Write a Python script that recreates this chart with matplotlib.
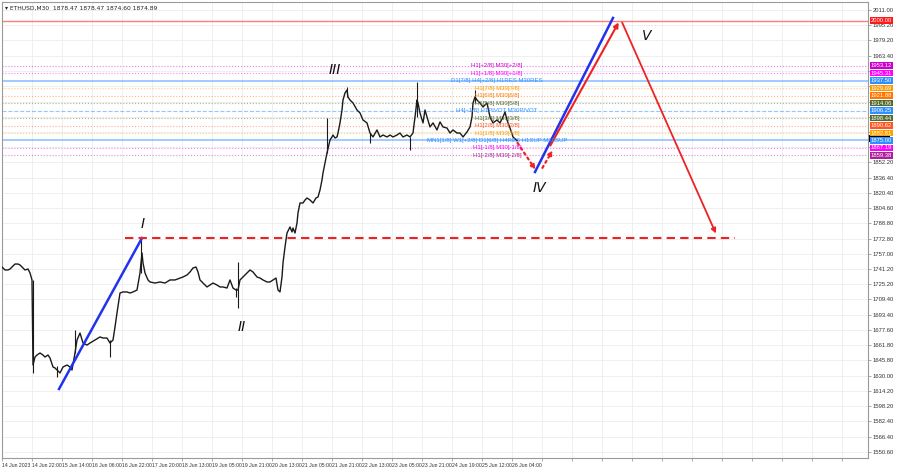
import matplotlib
matplotlib.use('Agg')
import matplotlib.pyplot as plt
from matplotlib import transforms
from matplotlib.patches import Rectangle

plt.rcParams['font.family'] = ['Liberation Sans Narrow', 'Liberation Sans', 'DejaVu Sans']

# close prices sampled along the chart (x = bar position on the time scale)
bar_x = [0, 3, 5, 8, 10, 13, 15, 18, 20, 23, 25, 28, 30, 32, 33, 35, 37, 40, 43, 45, 48, 50, 53, 55, 57, 60,
         63, 67, 70, 72, 75, 77, 80, 83, 87, 90, 95, 100, 103, 107, 110, 113, 115, 117, 120, 123, 127, 130, 133,
         137, 140, 142, 143, 145, 148, 150, 155, 160, 165, 170, 175, 180, 183, 187, 190, 193, 196, 198, 200, 203,
         207, 210, 213, 217, 220, 223, 227, 230, 233, 236, 238, 240, 243, 247, 250, 253, 257, 260, 263, 267, 270,
         273, 276, 278, 280, 282, 283, 285, 287, 290, 292, 293, 295, 297, 298, 300, 303, 305, 307, 310, 313, 316,
         318, 320, 322, 323, 325, 327, 330, 332, 333, 335, 337, 338, 340, 342, 343, 345, 347, 348, 350, 353, 357,
         360, 363, 367, 370, 373, 377, 380, 383, 387, 390, 393, 397, 400, 403, 407, 410, 413, 415, 417, 418, 420,
         423, 425, 427, 430, 433, 437, 440, 443, 447, 450, 453, 457, 460, 463, 467, 470, 472, 473, 475, 477, 480,
         483, 487, 490, 493, 497, 500, 503, 505, 507, 510, 513, 517]
close = [1745.3, 1742.2, 1740.1, 1740.1, 1741.1, 1744.2, 1746.3, 1746.3, 1745.3, 1742.2, 1740.1, 1741.1, 1737.0,
         1729.7, 1641.1, 1649.4, 1651.5, 1653.6, 1651.5, 1649.4, 1651.5, 1648.4, 1639.0, 1638.0, 1635.9, 1632.8,
         1639.0, 1641.1, 1639.0, 1635.9, 1653.6, 1667.1, 1674.4, 1664.0, 1661.9, 1664.0, 1667.1, 1670.3, 1669.2,
         1669.2, 1664.0, 1667.1, 1680.7, 1695.3, 1716.1, 1717.2, 1717.2, 1716.1, 1717.2, 1719.2, 1737.0, 1757.8,
         1747.4, 1737.0, 1729.7, 1727.6, 1726.5, 1727.6, 1726.5, 1729.7, 1729.7, 1731.7, 1732.8, 1734.9, 1738.0,
         1742.2, 1743.2, 1738.0, 1729.7, 1726.5, 1722.4, 1724.4, 1726.5, 1724.4, 1722.4, 1722.4, 1721.3, 1729.7,
         1721.3, 1719.2, 1719.2, 1729.7, 1732.8, 1737.0, 1740.1, 1738.0, 1732.8, 1731.7, 1729.7, 1727.6, 1727.6,
         1729.7, 1731.7, 1719.2, 1717.2, 1732.8, 1747.4, 1764.0, 1778.6, 1784.9, 1779.7, 1783.8, 1778.6, 1789.1,
         1799.5, 1809.9, 1809.9, 1813.0, 1815.1, 1813.0, 1809.9, 1815.1, 1816.1, 1823.4, 1833.9, 1841.2, 1851.6,
         1862.0, 1875.5, 1878.7, 1880.7, 1877.6, 1878.7, 1882.8, 1893.3, 1906.8, 1917.2, 1924.5, 1927.6, 1920.3,
         1917.2, 1914.1, 1906.8, 1903.7, 1896.4, 1893.3, 1882.8, 1878.7, 1886.0, 1878.7, 1880.7, 1878.7, 1880.7,
         1878.7, 1880.7, 1882.8, 1878.7, 1880.7, 1878.7, 1882.8, 1899.5, 1917.2, 1914.1, 1903.7, 1893.3, 1906.8,
         1899.5, 1889.1, 1893.3, 1886.0, 1894.3, 1889.1, 1888.0, 1882.8, 1886.0, 1882.8, 1882.8, 1878.7, 1883.9,
         1889.1, 1899.5, 1914.1, 1920.3, 1917.2, 1914.1, 1909.9, 1914.1, 1899.5, 1893.3, 1896.4, 1893.3, 1899.5,
         1904.7, 1896.4, 1888.0, 1878.7, 1874.9]

# long wicks
wick_x = [33, 57, 75, 110, 141, 236, 238, 327, 347, 370, 410, 417, 475]
wick_lo = [1632.8, 1628.6, 1653.6, 1649.4, 1737.0, 1711.9, 1700.5, 1862.0, 1920.3, 1872.4, 1865.1, 1899.5, 1914.1]
wick_hi = [1729.7, 1640.0, 1677.6, 1667.1, 1773.0, 1721.3, 1748.4, 1898.5, 1930.8, 1882.8, 1878.7, 1936.0, 1927.6]

# murrey math levels
level_price = [1953.125, 1945.3125, 1937.5, 1929.6875, 1921.875, 1914.0625, 1906.25, 1898.4375, 1890.625,
               1882.8125, 1875.0, 1867.1875, 1859.375]
level_name = ['H1[+2/8] M30[+2/8]', 'H1[+1/8] M30[+1/8]', 'D1[7/8] H4[+2/8] H1RES M30RES',
              'H1[7/8] M30[7/8]', 'H1[6/8] M30[6/8]', 'H1[5/8] M30[5/8]', 'H4[+1/8] H1PIVOT M30PIVOT',
              'H1[3/8] M30[3/8]', 'H1[2/8] M30[2/8]', 'H1[1/8] M30[1/8]',
              'MN1[1/8] W1[+2/8] D1[6/8] H4RES H1SUP M30SUP', 'H1[-1/8] M30[-1/8]', 'H1[-2/8] M30[-2/8]']
level_color = ['#cc00cc', '#ff00ff', '#2f8fff', '#ff9900', '#ff7700', '#556b2f', '#2f8fff', '#556b2f',
               '#ff5522', '#ffa000', '#2f8fff', '#ff00ff', '#aa2299']
level_style = [':', ':', '-', ':', ':', ':', '--', ':', ':', ':', '-', ':', ':']
target_price = 2000.0
last_price = 1874.89

price_ticks = [2011.00, 1995.20, 1979.20, 1963.40, 1852.20, 1836.40, 1820.40, 1804.60, 1788.80, 1772.80,
               1757.00, 1741.20, 1725.20, 1709.40, 1693.40, 1677.60, 1661.80, 1645.80, 1630.00, 1614.20,
               1598.20, 1582.40, 1566.40, 1550.60]
hidden_ticks = [1947.40, 1931.60, 1915.60, 1899.80, 1884.00, 1868.00]
time_labels = ['14 Jun 2023', '14 Jun 22:00', '15 Jun 14:00', '16 Jun 06:00', '16 Jun 22:00', '17 Jun 20:00',
               '18 Jun 13:00', '19 Jun 05:00', '19 Jun 21:00', '20 Jun 13:00', '21 Jun 05:00', '21 Jun 21:00',
               '22 Jun 13:00', '23 Jun 05:00', '23 Jun 21:00', '24 Jun 19:00', '25 Jun 12:00', '26 Jun 04:00']

# elliott wave sketch
wave1_x = [59, 142]
wave1_y = [1616.1, 1773.4]
wave1_level = 1773.4
wave_names = ['I', 'II', 'III', 'IV', 'V']
wave_x = [143, 242, 335, 539, 647]
wave_y = [1788.0, 1680.7, 1948.5, 1825.5, 1983.9]
proj_blue_x = [535, 613]
proj_blue_y = [1842.2, 2002.7]
proj_up_x = [549, 620]
proj_up_y = [1867.2, 2000.6]
proj_down_x = [621, 717]
proj_down_y = [2000.6, 1775.5]

fig = plt.figure(figsize=(9, 4.68), dpi=100)
ax = fig.add_axes([2 / 900, 10 / 468, 866 / 900, 456 / 468])
ax.set_xlim(2, 868)
ax.set_ylim(1544.2, 2019.3)

grid_x = [2 + 30 * i for i in range(29)]
ax.set_xticks(grid_x)
ax.set_xticklabels(time_labels + [''] * (len(grid_x) - len(time_labels)), fontsize=3.7, color='#333333',
                   ha='left')
ax.set_yticks(price_ticks)
ax.set_yticklabels(['%.2f' % p for p in price_ticks], fontsize=4.2, color='#333333')
ax.set_yticks(hidden_ticks, minor=True)
ax.yaxis.tick_right()
ax.tick_params(axis='both', which='both', length=2, width=0.5, pad=1.5, color='#888888')
ax.grid(color='#ececec', linewidth=0.6, which='both')
ax.set_axisbelow(True)
for s in ax.spines.values():
    s.set_color('#9a9a9a')
    s.set_linewidth(0.8)

# levels
for p, c, ls in zip(level_price, level_color, level_style):
    lw = 1.3 if ls == '-' else 0.8
    ax.axhline(p, color=c, ls=ls, lw=lw, alpha=0.5, zorder=1)
ax.axhline(target_price, color='#ff7b7b', lw=1.0, zorder=1)

# price
ax.vlines(wick_x, wick_lo, wick_hi, color='#1a1a1a', lw=0.8, zorder=3)
ax.plot(bar_x, close, color='#1a1a1a', lw=1.0, zorder=3)

for p, n, c in zip(level_price, level_name, level_color):
    ax.text(497, p, n, fontsize=4.3, color=c, ha='center', va='center', zorder=5)

# wave lines
ax.plot(wave1_x, wave1_y, color='#2233ee', lw=1.8, zorder=4)
ax.plot([125, 735], [wave1_level, wave1_level], color='#ee2222', lw=1.5, ls=(0, (4, 2.5)), zorder=4)
ax.plot(proj_blue_x, proj_blue_y, color='#2233ee', lw=1.8, zorder=4)
ax.annotate('', xy=(proj_up_x[1], proj_up_y[1]), xytext=(proj_up_x[0], proj_up_y[0]),
            arrowprops=dict(arrowstyle='-|>', color='#ee2222', lw=1.5, mutation_scale=7), zorder=4)
ax.annotate('', xy=(proj_down_x[1], proj_down_y[1]), xytext=(proj_down_x[0], proj_down_y[0]),
            arrowprops=dict(arrowstyle='-|>', color='#ee2222', lw=1.3, mutation_scale=7), zorder=4)
ax.annotate('', xy=(537, 1842.2), xytext=(516, 1874.9),
            arrowprops=dict(arrowstyle='-|>', color='#ee2222', lw=1.6, ls=':', mutation_scale=6), zorder=4)
ax.annotate('', xy=(554, 1867.2), xytext=(541, 1844.0),
            arrowprops=dict(arrowstyle='-|>', color='#ee2222', lw=1.6, ls=':', mutation_scale=6), zorder=4)

for n, x, y in zip(wave_names, wave_x, wave_y):
    ax.text(x, y, n, fontsize=10, style='italic', color='#111111', ha='center', va='center', zorder=6,
            family='DejaVu Sans')

# price boxes on the axis
tr = transforms.blended_transform_factory(ax.transAxes, ax.transData)
ax.add_patch(Rectangle((1.001, last_price - 1.0), 0.0245, 7.0, transform=tr, fc='black', ec='none',
                       clip_on=False, zorder=9))
ax.text(1.003, target_price, '%.2f' % target_price, transform=tr, fontsize=4.2, color='white',
        va='center', ha='left', clip_on=False, zorder=10,
        bbox=dict(boxstyle='square,pad=0.15', fc='#ff1a1a', ec='none'))
for p, c in zip(level_price, level_color):
    ax.text(1.003, p, '%.2f' % p, transform=tr, fontsize=4.2, color='white', va='center', ha='left',
            clip_on=False, zorder=10, bbox=dict(boxstyle='square,pad=0.15', fc=c, ec='none'))

ax.text(0.004, 0.992, '\u25be ETHUSD,M30  1878.47 1878.47 1874.60 1874.89', transform=ax.transAxes,
        fontsize=4.3, color='#222222', va='top', ha='left', family=['Liberation Sans Narrow', 'DejaVu Sans'])

fig.savefig('out.png', dpi=100, facecolor='white')
